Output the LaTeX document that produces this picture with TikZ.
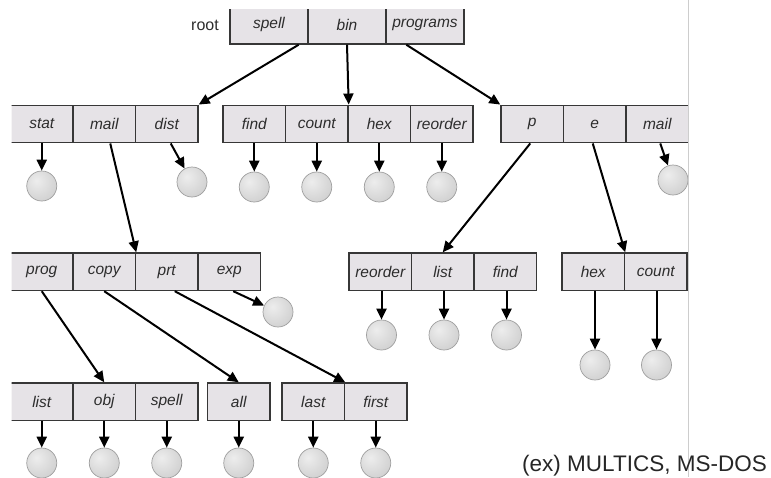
\documentclass[tikz,border=0pt]{standalone}
\usepackage{fontspec}
\setmainfont{Liberation Sans}
\usetikzlibrary{arrows.meta,shadings}

\definecolor{boxfill}{RGB}{230,227,231}
\definecolor{boxline}{RGB}{55,55,55}
\definecolor{labelgray}{RGB}{45,45,45}
\definecolor{rulegray}{RGB}{205,205,205}

% soft sphere for plain files, lit from the upper left
\pgfdeclareradialshading{filesphere}{\pgfpoint{-9bp}{9bp}}{%
  color(0bp)=(gray!14); color(22bp)=(gray!29); color(45bp)=(gray!44);
  color(60bp)=(gray!48); color(100bp)=(gray!48)}

\begin{document}
\begin{tikzpicture}[x=1pt,y=-1pt,
  cell/.style={rectangle, draw=boxline, fill=boxfill, line width=1.4pt,
    minimum width=62.5pt, minimum height=37.5pt, inner sep=0pt,
    font=\fontsize{15.5}{18}\selectfont\itshape, text=labelgray},
  rootcell/.style={cell, minimum width=78pt, minimum height=39pt},
  file/.style={circle, minimum size=30pt, inner sep=0pt, draw=gray!75,
    line width=0.7pt, shading=filesphere},
  link/.style={line width=2pt, -{Triangle[length=11pt,width=10pt]}}
]
\useasboundingbox (0,0) rectangle (771,477);
\fill[white] (0,0) rectangle (771,477);

\begin{scope}
\clip (11.5,9.5) rectangle (688,477);

% root directory
\node[rootcell] (rspell) at (269,24.5) {spell};
\node[rootcell] (rbin)   at (347,24.5) {bin};
\node[rootcell] (rprogs) at (425,24.5) {programs};

% second level
\node[cell] (stat)  at (41.75,124) {stat};
\node[cell] (mail)  at (104.25,124) {mail};
\node[cell] (dist)  at (166.75,124) {dist};

\node[cell] (bfind)    at (254.25,124) {find};
\node[cell] (bcount)   at (316.75,124) {count};
\node[cell] (bhex)     at (379.25,124) {hex};
\node[cell] (breorder) at (441.75,124) {reorder};

\node[cell] (pp)    at (532.25,124) {p};
\node[cell] (pe)    at (594.75,124) {e};
\node[cell] (pmail) at (657.25,124) {mail};

% third level
\node[cell] (prog) at (41.75,271.75) {prog};
\node[cell] (copy) at (104.25,271.75) {copy};
\node[cell] (prt)  at (166.75,271.75) {prt};
\node[cell] (exp)  at (229.25,271.75) {exp};

\node[cell] (preorder) at (380.25,271.75) {reorder};
\node[cell] (plist)    at (442.75,271.75) {list};
\node[cell] (pfind)    at (505.25,271.75) {find};

\node[cell] (ehex)   at (593.25,271.75) {hex};
\node[cell] (ecount) at (655.75,271.75) {count};

% fourth level
\node[cell] (list)  at (41.75,401.75) {list};
\node[cell] (obj)   at (104.25,401.75) {obj};
\node[cell] (spell) at (166.75,401.75) {spell};
\node[cell] (all)   at (238.75,401.75) {all};
\node[cell] (last)  at (313.25,401.75) {last};
\node[cell] (first) at (375.75,401.75) {first};

% files
\node[file] (fstat) at (41.75,186) {};
\node[file] (fdist) at (192,182) {};
\node[file] (ffind)    at (254.25,187) {};
\node[file] (fcount)   at (316.75,187) {};
\node[file] (fhex)     at (379.25,187) {};
\node[file] (freorder) at (441.75,187) {};
\node[file] (fpmail)   at (673,180) {};

\node[file] (fexp) at (278,312) {};
\node[file] (fpreorder) at (381.5,335) {};
\node[file] (fplist)    at (444,335) {};
\node[file] (fpfind)    at (506.5,335) {};
\node[file] (fehex)     at (595,365) {};
\node[file] (fecount)   at (656.5,365) {};

\node[file] (flist)  at (41.75,463) {};
\node[file] (fobj)   at (104.25,463) {};
\node[file] (fspell) at (166.75,463) {};
\node[file] (fall)   at (238.75,463) {};
\node[file] (flast)  at (313.25,463) {};
\node[file] (ffirst) at (375.75,463) {};

% directory links
\draw[link] ([xshift=-10pt]rspell.south east) -- (dist.north east);
\draw[link] (rbin.south) -- (bcount.north east);
\draw[link] ([xshift=21pt]rprogs.south west) -- (pp.north west);

\draw[link] ([xshift=6pt]mail.south) -- (copy.north east);
\draw[link] ([xshift=-2pt]pp.south) -- (plist.north);
\draw[link] ([xshift=-2pt]pe.south) -- (ehex.north east);

\draw[link] (prog.south) -- (obj.north);
\draw[link] (copy.south) -- (all.north);
\draw[link] ([xshift=8pt]prt.south) -- (last.north east);

% file links
\draw[link] (stat.south) -- (fstat);
\draw[link] ([xshift=4pt]dist.south) -- (fdist);
\draw[link] (bfind.south) -- (ffind);
\draw[link] (bcount.south) -- (fcount);
\draw[link] (bhex.south) -- (fhex);
\draw[link] (breorder.south) -- (freorder);
\draw[link] ([xshift=3pt]pmail.south) -- (fpmail);

\draw[link] ([xshift=4pt]exp.south) -- (fexp);
\draw[link] ([xshift=1.25pt]preorder.south) -- (fpreorder);
\draw[link] ([xshift=1.25pt]plist.south) -- (fplist);
\draw[link] ([xshift=1.25pt]pfind.south) -- (fpfind);
\draw[link] ([xshift=1.75pt]ehex.south) -- (fehex);
\draw[link] ([xshift=0.75pt]ecount.south) -- (fecount);

\draw[link] (list.south) -- (flist);
\draw[link] (obj.south) -- (fobj);
\draw[link] (spell.south) -- (fspell);
\draw[link] (all.south) -- (fall);
\draw[link] (last.south) -- (flast);
\draw[link] (first.south) -- (ffirst);
\end{scope}

\node[font=\fontsize{16}{18}\selectfont, text=labelgray, anchor=east, inner sep=0pt]
  (rootlabel) at (219,25) {root};

\draw[rulegray, line width=0.8pt] (688,0) -- (688,477);

\node[font=\fontsize{22.5}{26}\selectfont, text=black!85, anchor=base east, inner sep=0pt]
  (note) at (767,471) {(ex) MULTICS, MS-DOS};
\end{tikzpicture}
\end{document}
